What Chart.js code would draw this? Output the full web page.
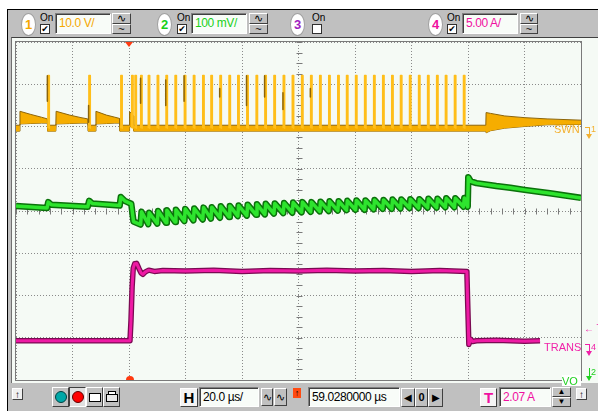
<!DOCTYPE html>
<html><head><meta charset="utf-8">
<script src="https://cdn.jsdelivr.net/npm/chart.js@4.4.0/dist/chart.umd.min.js"></script>
<style>
body{margin:0;width:598px;height:411px;overflow:hidden;background:#fff;position:relative;font-family:"Liberation Sans",Arial,sans-serif;}
.a{position:absolute;box-sizing:border-box;}
#frame{left:7px;top:9px;width:591px;height:402px;background:#c0c0c0;border-top:1px solid #000;border-left:1px solid #000;}
#screen{left:11px;top:37px;width:587px;height:346px;background:#f5faf5;border-left:1px solid #707070;border-top:1px solid #404040;}
#grat{left:15px;top:41px;width:567px;height:340px;border:1px solid #7a7a7a;}
#plot{left:16px;top:42px;width:565px;height:338px;}
.btn{background:#c0c0c0;border:1px solid;border-color:#fff #404040 #404040 #fff;text-align:center;font-size:11px;line-height:9px;color:#000;}
.box{background:#f8fcf8;border:1px solid;border-color:#808080 #fff #fff #808080;box-shadow:inset 1px 1px 0 #404040;font-size:12px;line-height:19px;padding-left:3px;letter-spacing:-0.4px;white-space:nowrap;}
.circ{background:#fff;border:1px solid #a0a0a0;border-radius:50%;text-align:center;font-weight:bold;font-size:13px;line-height:22px;}
.on{font-size:10px;line-height:10px;color:#000;}
.cb{width:10px;height:10px;background:#fff;border:1px solid #303030;font-size:9px;line-height:9px;text-align:center;color:#000;font-family:"DejaVu Sans";}
.lbl{font-size:11px;line-height:12px;white-space:nowrap;}
</style></head>
<body>
<div class="a" id="frame"></div>
<div class="a" id="screen"></div>
<div class="a" id="grat"></div>
<div class="a" id="plot"><canvas id="c"></canvas></div>

<!-- top toolbar -->
<div class="a circ" style="left:21px;top:13px;width:15px;height:23px;color:#f5a800">1</div>
<div class="a on" style="left:40px;top:13px">On</div>
<div class="a cb" style="left:40px;top:24px">✔</div>
<div class="a box" style="left:55px;top:13px;width:56px;height:21px;color:#f5a800">10.0 V/</div>
<div class="a btn" style="left:112px;top:13px;width:19px;height:11px">∿</div>
<div class="a btn" style="left:112px;top:24px;width:19px;height:10px">~</div>

<div class="a circ" style="left:157px;top:13px;width:15px;height:23px;color:#18d018">2</div>
<div class="a on" style="left:177px;top:13px">On</div>
<div class="a cb" style="left:177px;top:24px">✔</div>
<div class="a box" style="left:191px;top:13px;width:56px;height:21px;color:#18d018">100 mV/</div>
<div class="a btn" style="left:249px;top:13px;width:19px;height:11px">∿</div>
<div class="a btn" style="left:249px;top:24px;width:19px;height:10px">~</div>

<div class="a circ" style="left:290px;top:13px;width:15px;height:23px;color:#a020c0">3</div>
<div class="a on" style="left:312px;top:13px">On</div>
<div class="a cb" style="left:312px;top:24px"></div>

<div class="a circ" style="left:428px;top:13px;width:15px;height:23px;color:#f010a0">4</div>
<div class="a on" style="left:447px;top:13px">On</div>
<div class="a cb" style="left:447px;top:24px">✔</div>
<div class="a box" style="left:462px;top:13px;width:56px;height:21px;color:#f010a0">5.00 A/</div>
<div class="a btn" style="left:520px;top:13px;width:18px;height:11px">∿</div>
<div class="a btn" style="left:520px;top:24px;width:18px;height:10px">~</div>

<!-- bottom toolbar -->
<div class="a btn" style="left:12px;top:388px;width:11px;height:12px;background:#f0f0f0;font-size:10px;line-height:11px">↑</div>
<div class="a btn" style="left:52px;top:387px;width:17px;height:20px"><div class="a" style="left:2px;top:3px;width:12px;height:12px;border-radius:50%;background:#00a8a8;border:1px solid #004040"></div></div>
<div class="a btn" style="left:69px;top:387px;width:17px;height:20px;border-color:#404040 #fff #fff #404040;background:#e0e0e0"><div class="a" style="left:2px;top:3px;width:12px;height:12px;border-radius:50%;background:#ff0000;border:1px solid #600000"></div></div>
<div class="a btn" style="left:86px;top:387px;width:17px;height:20px"><div class="a" style="left:2px;top:5px;width:12px;height:9px;background:#fff;border:1px solid #000"></div></div>
<div class="a btn" style="left:103px;top:387px;width:17px;height:20px"><div class="a" style="left:2px;top:6px;width:12px;height:8px;background:#e8e8e8;border:1px solid #000"></div><div class="a" style="left:4px;top:3px;width:8px;height:4px;background:#fff;border:1px solid #000"></div></div>

<div class="a btn" style="left:180px;top:388px;width:18px;height:19px;background:#f4f4f4;font-size:15px;line-height:17px;font-weight:bold">H</div>
<div class="a box" style="left:199px;top:387px;width:60px;height:20px;color:#000">20.0 µs/</div>
<div class="a btn" style="left:261px;top:388px;width:12px;height:18px;line-height:16px">∿</div>
<div class="a btn" style="left:274px;top:388px;width:13px;height:18px;line-height:16px">∿</div>
<div class="a" style="left:293px;top:388px;width:8px;height:10px;background:#ff4a10;font-size:9px;line-height:10px;text-align:center;color:#000">↑</div>
<div class="a box" style="left:308px;top:387px;width:92px;height:20px;color:#000">59.0280000 µs</div>
<div class="a btn" style="left:401px;top:388px;width:14px;height:19px;line-height:17px;font-size:10px">◀</div>
<div class="a btn" style="left:415px;top:388px;width:13px;height:19px;line-height:17px;font-size:11px;font-weight:bold">0</div>
<div class="a btn" style="left:428px;top:388px;width:15px;height:19px;line-height:17px;font-size:10px">▶</div>

<div class="a btn" style="left:480px;top:388px;width:17px;height:19px;background:#f4f4f4;font-size:15px;line-height:17px;font-weight:bold;color:#f010a0">T</div>
<div class="a box" style="left:499px;top:387px;width:52px;height:20px;color:#f010a0">2.07 A</div>
<div class="a btn" style="left:552px;top:387px;width:19px;height:10px;font-size:8px;line-height:8px">▲</div>
<div class="a btn" style="left:552px;top:397px;width:19px;height:10px;font-size:8px;line-height:8px">▼</div>
<div class="a btn" style="left:576px;top:388px;width:11px;height:12px;background:#f0f0f0;font-size:10px;line-height:11px">↑</div>

<!-- trace labels -->
<div class="a lbl" style="left:554px;top:123px;color:#f3b030">SWN</div>
<div class="a lbl" style="left:544px;top:341px;color:#f020a8">TRANS</div>
<div class="a lbl" style="left:562px;top:375px;width:19px;height:11px;background:#fff;color:#20d020;font-size:11px;line-height:12px">VO</div>

<!-- right markers -->
<div class="a" style="left:585px;top:127px;width:4px;height:1px;background:#f3b030"></div>
<div class="a" style="left:589px;top:127px;width:1px;height:7px;background:#f3b030"></div>
<div class="a" style="left:586px;top:134px;width:0;height:0;border-left:3.5px solid transparent;border-right:3.5px solid transparent;border-top:5px solid #f3b030"></div>
<div class="a lbl" style="left:591px;top:123px;font-size:9px;color:#f3b030">1</div>
<div class="a lbl" style="left:584px;top:323px;font-size:10px;color:#f020a8">← T</div>
<div class="a" style="left:585px;top:344px;width:4px;height:1px;background:#f020a8"></div>
<div class="a" style="left:589px;top:344px;width:1px;height:7px;background:#f020a8"></div>
<div class="a" style="left:586px;top:351px;width:0;height:0;border-left:3.5px solid transparent;border-right:3.5px solid transparent;border-top:5px solid #f020a8"></div>
<div class="a lbl" style="left:591px;top:341px;font-size:9px;color:#f020a8">4</div>
<div class="a" style="left:589px;top:368px;width:1px;height:8px;background:#20d020"></div>
<div class="a" style="left:586px;top:376px;width:0;height:0;border-left:3.5px solid transparent;border-right:3.5px solid transparent;border-top:5px solid #20d020"></div>
<div class="a lbl" style="left:591px;top:366px;font-size:9px;color:#20d020">2</div>

<script>
// ---- axes (time in µs, vertical in screen divisions) ----
const timeTicks = [-40,-20,0,20,40,60,80,100,120,140,160];
const divTicks  = [-4,-3,-2,-1,0,1,2,3,4];

// ---- CH1 SWN: envelope of the trace band ----
const swnT  = [-40,-38.7,-38.6,-35,-31,-28.9,-28.8,-25.9,-25.8,-21,-17,-14.6,-14.5,-11.8,-11.7,-8,-5,-3.3,-3.2,0.1,0.2,1.0,1.6,1.7,126.3,126.4,128,133,140,148,160];
const swnHi = [2.03,2.03,2.36,2.29,2.22,2.18,2.03,2.03,2.36,2.27,2.21,2.18,2.03,2.03,2.36,2.27,2.22,2.19,2.03,2.03,2.35,2.30,2.25,2.03,2.03,2.33,2.31,2.25,2.21,2.18,2.15];
const swnLo = [1.89,1.89,2.06,2.07,2.08,2.08,1.89,1.89,2.06,2.07,2.08,2.08,1.89,1.89,2.06,2.07,2.08,2.08,1.89,1.89,1.99,2.00,2.00,1.89,1.89,1.85,1.90,1.96,2.00,2.04,2.05];
// switching pulses (µs) and their levels (div)
const swnPulseT = [-28.7,-14.2,-2.9,0.96,2.12,4.14,6.83,10.0,13.1,16.3,19.6,22.8,26.1,29.0,32.2,35.4,38.5,41.7,45.0,48.1,51.3,54.6,57.8,61.1,64.3,67.5,70.7,73.9,77.0,80.2,83.4,86.6,89.8,93.0,96.1,99.3,102.5,105.7,108.9,112.0,115.2,118.4];
const swnPulseLow = 1.96, swnPulseHigh = 3.21, swnPulseWidth = 0.5;
// darker (brown) segments on some pulse edges
const swnDarkT  = [-28.9,-14.3,4.1,13.0,19.5,32.1,41.6,48.0,54.5,64.2];
const swnDarkHi = [3.20,2.50,3.14,3.10,3.20,2.90,3.20,3.20,2.80,2.90];
const swnDarkLo = [2.60,2.10,2.55,2.50,2.60,2.70,2.50,2.70,2.40,2.70];

// ---- CH2 VO ----
const voPreT = [-40,-29,-28.6,-27.5,-14.6,-14.1,-13,-3.3,-2.9,-1.5,0.8,1.6,4.1];
const voPreV = [0.12,0.07,0.21,0.15,0.10,0.24,0.18,0.13,0.33,0.24,0.17,-0.25,-0.32];
const voToothTop = [-0.02,-0.04,0.00,0.02,0.03,0.05,0.06,0.08,0.09,0.11,0.12,0.13,0.15,0.16,0.17,0.18,0.19,0.20,0.21,0.21,0.22,0.23,0.23,0.24,0.25,0.25,0.26,0.26,0.27,0.27,0.28,0.28,0.29,0.29,0.30,0.30,0.31];
const voToothBot = [-0.31,-0.30,-0.28,-0.26,-0.24,-0.22,-0.20,-0.18,-0.16,-0.14,-0.12,-0.11,-0.09,-0.08,-0.06,-0.05,-0.04,-0.03,-0.02,-0.01,0.00,0.01,0.02,0.03,0.03,0.04,0.05,0.05,0.06,0.07,0.07,0.08,0.08,0.09,0.09,0.10,0.10];
const voPostT = [119.9,120.1,121,123,130,135,140,149,160];
const voPostV = [0.10,0.80,0.70,0.66,0.59,0.55,0.50,0.42,0.31];

// ---- CH4 TRANS ----
const transT = [-40,0.35,0.7,1.1,1.5,2.0,2.7,3.5,4.3,4.9,5.8,7,9,12,20,30,40,50,60,70,80,90,100,110,119.6,119.9,120.3,120.9,121.6,123,130,140,145.5];
const transV = [-3.07,-3.07,-2.6,-1.8,-1.35,-1.25,-1.24,-1.36,-1.47,-1.50,-1.44,-1.40,-1.43,-1.41,-1.42,-1.40,-1.43,-1.41,-1.42,-1.40,-1.42,-1.41,-1.43,-1.41,-1.43,-2.2,-3.16,-3.03,-3.09,-3.07,-3.06,-3.08,-3.07];

// ---- build point tables ----
const pts = (xs, ys) => xs.map((x, i) => ({x, y: ys[i]}));
const pulsePts = [];
swnPulseT.forEach(p => {
  pulsePts.push({x:p,y:swnPulseLow},{x:p,y:swnPulseHigh},{x:p+swnPulseWidth,y:swnPulseHigh},{x:p+swnPulseWidth,y:swnPulseLow},{x:p+swnPulseWidth,y:null});
});
const darkPts = [];
swnDarkT.forEach((t, i) => { darkPts.push({x:t,y:swnDarkHi[i]},{x:t,y:swnDarkLo[i]},{x:t,y:null}); });
const toothPulses = swnPulseT.slice(5);
const voPts = pts(voPreT, voPreV);
toothPulses.forEach((p, k) => {
  if (k > 0) voPts.push({x:p, y:voToothBot[k-1]});
  voPts.push({x:p+0.3, y:voToothTop[k]});
});
voPts.push(...pts(voPostT, voPostV));
const transPts = pts(transT, transV);

const graticule = {
  id:'graticule',
  beforeDatasetsDraw(chart){
    const {ctx, scales:{x, y}} = chart;
    ctx.save();
    ctx.strokeStyle = '#7a7a7a'; ctx.lineWidth = 1;
    const cx = Math.round(x.getPixelForValue(60)) + 0.5;
    const cy = Math.round(y.getPixelForValue(0)) + 0.5;
    ctx.beginPath();
    for (let v = -4; v <= 4; v += 0.25) { const py = Math.round(y.getPixelForValue(v)) + 0.5; ctx.moveTo(cx-3, py); ctx.lineTo(cx+3, py); }
    for (let t = -40; t <= 160; t += 4) { const px = Math.round(x.getPixelForValue(t)) + 0.5; ctx.moveTo(px, cy-3); ctx.lineTo(px, cy+3); }
    ctx.stroke();
    ctx.restore();
  },
  afterDatasetsDraw(chart){
    const {ctx, scales:{x, y}} = chart;
    const tx = x.getPixelForValue(0);
    ctx.save();
    ctx.fillStyle = '#ff3a10';
    const top = y.getPixelForValue(4);
    ctx.beginPath(); ctx.moveTo(tx-4, top); ctx.lineTo(tx+4, top); ctx.lineTo(tx, top+5); ctx.closePath(); ctx.fill();
    const bot = y.getPixelForValue(-4);
    ctx.beginPath(); ctx.arc(tx+1, bot, 4, Math.PI, 0); ctx.fill();
    ctx.restore();
  }
};

const lineDs = (data, color, width, order, extra) => Object.assign({
  data, borderColor: color, borderWidth: width, pointRadius: 0, tension: 0,
  fill: false, order, spanGaps: false, borderJoinStyle: 'round', borderCapStyle: 'butt'
}, extra || {});

new Chart(document.getElementById('c'), {
  type: 'line',
  data: { datasets: [
    lineDs(darkPts, '#8c6408', 1.5, 0),
    lineDs(pulsePts, '#ffbe1a', 1.5, 1),
    lineDs(pts(swnT, swnHi), '#8c6408', 1, 2, {fill: '+1', backgroundColor: '#f6ad00'}),
    lineDs(pts(swnT, swnLo), '#8c6408', 1, 3),
    lineDs(voPts, '#2ee42e', 3.5, 4),
    lineDs(voPts, '#0b720b', 6.5, 5),
    lineDs(transPts, '#ee1aa4', 3, 6),
    lineDs(transPts, '#7a0a52', 5.5, 7)
  ]},
  options: {
    animation: false, responsive: true, maintainAspectRatio: false,
    layout: { padding: 0 },
    plugins: { legend: {display: false}, tooltip: {enabled: false} },
    scales: {
      x: { type: 'linear', min: -40, max: 160,
           afterBuildTicks: s => { s.ticks = timeTicks.map(v => ({value: v})); },
           ticks: {display: false}, grid: {color: '#8a8a8a', drawTicks: false, lineWidth: 1},
           border: {display: false, dash: [1, 2]} },
      y: { type: 'linear', min: -4, max: 4,
           afterBuildTicks: s => { s.ticks = divTicks.map(v => ({value: v})); },
           ticks: {display: false}, grid: {color: '#8a8a8a', drawTicks: false, lineWidth: 1},
           border: {display: false, dash: [1, 2]} }
    }
  },
  plugins: [graticule]
});
</script>
</body></html>
